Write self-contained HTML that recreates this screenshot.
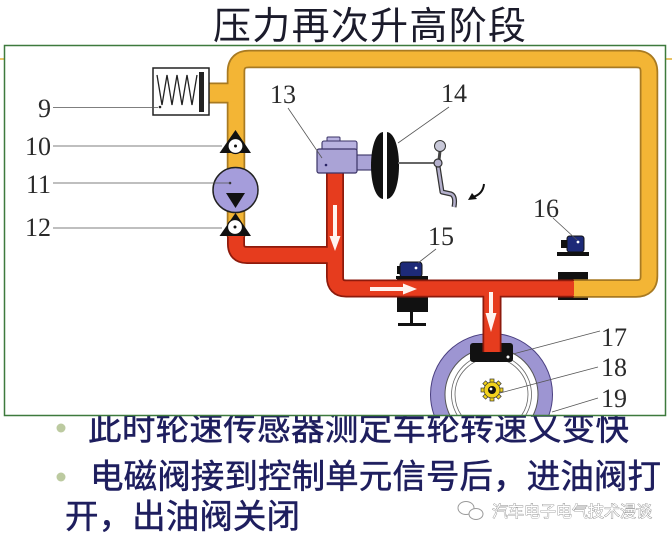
<!DOCTYPE html>
<html><head><meta charset="utf-8"><style>
html,body{margin:0;padding:0;background:#fff;}
svg{display:block;}
</style></head><body>
<svg width="672" height="541" viewBox="0 0 672 541" xmlns="http://www.w3.org/2000/svg">
<defs>
<clipPath id="box"><rect x="5" y="46" width="660" height="369"/></clipPath>
</defs>
<rect width="672" height="541" fill="#fff"/>

<!-- title -->
<text x="213" y="39" font-family="'Liberation Sans','Noto Sans CJK SC',sans-serif" font-size="38" fill="#1b1b2b" textLength="313" lengthAdjust="spacing">压力再次升高阶段</text>

<!-- remnant yellow lines -->
<line x1="0" y1="59" x2="5" y2="59" stroke="#e8c468" stroke-width="2"/>
<line x1="666" y1="59" x2="672" y2="59" stroke="#e8c468" stroke-width="2"/>

<!-- bullet text -->
<g font-family="'Liberation Sans','Noto Sans CJK SC',sans-serif" font-size="33.5" fill="#1e1e5e" stroke="#1e1e5e" stroke-width="0.5">
<text x="88" y="440" textLength="541" lengthAdjust="spacing">此时轮速传感器测定车轮转速又变快</text>
<text x="90" y="488" textLength="571" lengthAdjust="spacing">电磁阀接到控制单元信号后，进油阀打</text>
<text x="65" y="528" textLength="235" lengthAdjust="spacing">开，出油阀关闭</text>
</g>
<circle cx="61" cy="428" r="4.5" fill="#bccaa0"/>
<circle cx="61" cy="477" r="4.5" fill="#bccaa0"/>

<!-- watermark -->
<g fill="#fff" stroke="#9a9a9a" stroke-width="1">
<ellipse cx="466" cy="508" rx="8" ry="6.5"/>
<ellipse cx="476" cy="514" rx="7" ry="5.5"/>
</g>
<text x="492" y="517" font-family="'Liberation Sans','Noto Sans CJK SC',sans-serif" font-size="16" fill="#fff" stroke="#8a8a8a" stroke-width="0.8" paint-order="stroke" textLength="160" lengthAdjust="spacing">汽车电子电气技术漫谈</text>

<!-- diagram box -->
<rect x="4.5" y="45.5" width="661" height="370" fill="#fff"/>
<g clip-path="url(#box)">
  <!-- wheel -->
  <circle cx="491.5" cy="394.5" r="61" fill="#9d95d2" stroke="#4a3f80" stroke-width="1"/>
  <circle cx="491.5" cy="394.5" r="46.5" fill="#fff" stroke="#555" stroke-width="1"/>
  <circle cx="491.5" cy="394.5" r="40" fill="none" stroke="#666" stroke-width="0.8"/>
  <circle cx="491.5" cy="394.5" r="36.5" fill="none" stroke="#666" stroke-width="0.8"/>
  <g transform="translate(492,390)">
    <g fill="#f2d21c" stroke="#333" stroke-width="0.7">
      <rect x="-2" y="-11" width="4" height="5"/>
      <rect x="-2" y="-11" width="4" height="5" transform="rotate(45)"/>
      <rect x="-2" y="-11" width="4" height="5" transform="rotate(90)"/>
      <rect x="-2" y="-11" width="4" height="5" transform="rotate(135)"/>
      <rect x="-2" y="-11" width="4" height="5" transform="rotate(180)"/>
      <rect x="-2" y="-11" width="4" height="5" transform="rotate(225)"/>
      <rect x="-2" y="-11" width="4" height="5" transform="rotate(270)"/>
      <rect x="-2" y="-11" width="4" height="5" transform="rotate(315)"/>
      <circle r="8"/>
    </g>
    <circle r="4" fill="#111"/>
    <circle cx="-1" cy="-1" r="1.4" fill="#fff"/>
  </g>
  <!-- caliper -->
  <rect x="470" y="343" width="43" height="19" rx="3" fill="#111"/>
  <circle cx="508" cy="357" r="1.5" fill="#fff"/>

  <!-- valve blocks under pipes -->
  <rect x="397" y="276" width="31" height="6" fill="#111"/>
  <rect x="397" y="296" width="31" height="16" fill="#111"/>
  <rect x="558" y="272" width="30" height="28" fill="#111"/>

  <!-- pipe outlines -->
  <g fill="none" stroke-linejoin="round">
    <path d="M236,237 L236,72 Q236,59 249,59 L636,59 Q649,59 649,72 L649,276 Q649,288.5 636,288.5 L573,288.5" stroke="#a87a22" stroke-width="18.5"/>
    <path d="M209,93 L236,93" stroke="#a87a22" stroke-width="21"/>
    <path d="M236,236 L236,244 Q236,255 247,255 L335,255" stroke="#8e1a0c" stroke-width="18"/>
    <path d="M335,172 L335,277 Q335,288.5 346,288.5 L574,288.5" stroke="#8e1a0c" stroke-width="18"/>
    <path d="M492,288 L492,352" stroke="#8e1a0c" stroke-width="19"/>
  </g>
  <!-- pipe fills -->
  <g fill="none" stroke-linejoin="round">
    <path d="M236,237 L236,72 Q236,59 249,59 L636,59 Q649,59 649,72 L649,276 Q649,288.5 636,288.5 L573,288.5" stroke="#f3b535" stroke-width="15"/>
    <path d="M208,93 L236,93" stroke="#f3b535" stroke-width="17.5"/>
    <path d="M236,236 L236,244 Q236,255 247,255 L335,255" stroke="#e63c1e" stroke-width="14.5"/>
    <path d="M335,170 L335,277 Q335,288.5 346,288.5 L574,288.5" stroke="#e63c1e" stroke-width="14.5"/>
    <path d="M492,288 L492,352" stroke="#e63c1e" stroke-width="15.5"/>
  </g>

  <!-- white flow arrows -->
  <g fill="#fff4f0">
    <rect x="333" y="205" width="4" height="33"/>
    <polygon points="329.5,236 340.5,236 335,251"/>
    <rect x="370" y="287" width="34" height="4"/>
    <polygon points="403,283.5 403,294.5 417,289"/>
    <rect x="489" y="292" width="4" height="23"/>
    <polygon points="485.5,313 496.5,313 491,332"/>
  </g>

  <!-- solenoid 15 -->
  <rect x="397" y="266" width="5" height="8" fill="#111"/>
  <rect x="400" y="262" width="22" height="15" rx="3" fill="#1d2a78" stroke="#111" stroke-width="1"/>
  <circle cx="416" cy="268" r="1.4" fill="#fff"/>
  <rect x="396" y="276" width="32" height="3" fill="#111"/>
  <rect x="410" y="311" width="3" height="14" fill="#111"/>
  <rect x="398" y="323" width="28" height="3" fill="#111"/>

  <!-- solenoid 16 -->
  <rect x="561" y="240" width="7" height="8" fill="#111"/>
  <rect x="567" y="236" width="17" height="16" rx="2.5" fill="#1d2a78" stroke="#111" stroke-width="1"/>
  <circle cx="578" cy="242" r="1.4" fill="#fff"/>
  <rect x="557" y="252" width="32" height="4" fill="#111"/>

  <!-- spring box 9 -->
  <rect x="153" y="68" width="56" height="47" fill="#fff" stroke="#222" stroke-width="1.5"/>
  <polyline points="157,75 162,105 167,75 172,105 177,75 182,105 187,75 192,105 197,75" fill="none" stroke="#222" stroke-width="1.3"/>
  <rect x="199" y="72" width="5" height="40" fill="#222"/>
  <circle cx="160" cy="107" r="1.3" fill="#222"/>

  <!-- check valve 10 -->
  <polygon points="235.5,130 219.5,153 251,153" fill="#111"/>
  <circle cx="235.5" cy="146" r="7.5" fill="#fff" stroke="#111" stroke-width="1.2"/>
  <circle cx="235.5" cy="146" r="1.5" fill="#111"/>
  <!-- pump 11 -->
  <circle cx="235.5" cy="190" r="22.5" fill="#a59ddb" stroke="#222" stroke-width="1.5"/>
  <polygon points="226,193 245,193 235.5,208" fill="#111"/>
  <circle cx="230" cy="183" r="1.3" fill="#333"/>
  <!-- check valve 12 -->
  <polygon points="235.5,213 219.5,236 251,236" fill="#111"/>
  <circle cx="235" cy="227" r="7.5" fill="#fff" stroke="#111" stroke-width="1.2"/>
  <circle cx="235" cy="227" r="1.5" fill="#111"/>

  <!-- master cylinder 13 -->
  <rect x="327" y="137" width="13" height="5" rx="1" fill="#b8b2e0" stroke="#3a3366" stroke-width="1"/>
  <rect x="322" y="141" width="35" height="10" rx="2" fill="#b8b2e0" stroke="#3a3366" stroke-width="1.1"/>
  <rect x="355" y="155" width="18" height="15" fill="#aaa3d6" stroke="#3a3366" stroke-width="1.1"/>
  <rect x="317" y="149" width="40" height="24" rx="2" fill="#aaa3d6" stroke="#3a3366" stroke-width="1.2"/>
  <circle cx="326" cy="165" r="1.3" fill="#2a2466"/>
  <!-- booster 14 -->
  <path d="M383,132 C367,134 367,197 383,199 Z" fill="#111"/>
  <path d="M387,132 C403,134 403,197 387,199 Z" fill="#111"/>
  <!-- pedal -->
  <line x1="398" y1="163" x2="436" y2="163" stroke="#666" stroke-width="2"/>
  <line x1="440" y1="151" x2="439" y2="160" stroke="#444" stroke-width="3"/>
  <circle cx="440" cy="146" r="5.5" fill="#c8c8d8" stroke="#333" stroke-width="1"/>
  <path d="M438,166 L442,192 L451,194 Q456,196 454,207" fill="none" stroke="#333" stroke-width="5" stroke-linejoin="round"/>
  <path d="M438,166 L442,192 L451,194 Q456,196 454,207" fill="none" stroke="#b4b0cc" stroke-width="2.5" stroke-linejoin="round"/>
  <circle cx="438" cy="163" r="4" fill="#b4b0cc" stroke="#333" stroke-width="1.2"/>
  <path d="M484,184 Q483,194 473,197" fill="none" stroke="#111" stroke-width="2"/>
  <polygon points="468,200 472,193 477,199" fill="#111"/>

  <!-- leader lines -->
  <g stroke="#555" stroke-width="0.8">
    <line x1="53" y1="107.5" x2="158" y2="107.5"/>
    <line x1="53" y1="146" x2="222" y2="146"/>
    <line x1="53" y1="183" x2="230" y2="183"/>
    <line x1="53" y1="228" x2="222" y2="228"/>
    <line x1="288" y1="108" x2="322" y2="158"/>
    <line x1="449" y1="107" x2="398" y2="143"/>
    <line x1="436" y1="249" x2="418" y2="263"/>
    <line x1="553" y1="218" x2="577" y2="240"/>
    <line x1="600" y1="331" x2="513" y2="354"/>
    <line x1="598" y1="367" x2="500" y2="393"/>
    <line x1="598" y1="398" x2="552" y2="412"/>
  </g>
  <!-- numbers -->
  <g font-family="'Liberation Serif',serif" font-size="26" fill="#2a2a2a">
    <text x="51" y="117" text-anchor="end">9</text>
    <text x="51" y="155" text-anchor="end">10</text>
    <text x="51" y="193" text-anchor="end">11</text>
    <text x="51" y="236" text-anchor="end">12</text>
    <text x="270" y="103">13</text>
    <text x="441" y="102">14</text>
    <text x="428" y="245">15</text>
    <text x="533" y="217">16</text>
    <text x="601" y="346">17</text>
    <text x="601" y="376">18</text>
    <text x="601" y="407">19</text>
  </g>
</g>
<rect x="4.5" y="45.5" width="661" height="370" fill="none" stroke="#3d7a3d" stroke-width="1.5"/>
</svg>
</body></html>
